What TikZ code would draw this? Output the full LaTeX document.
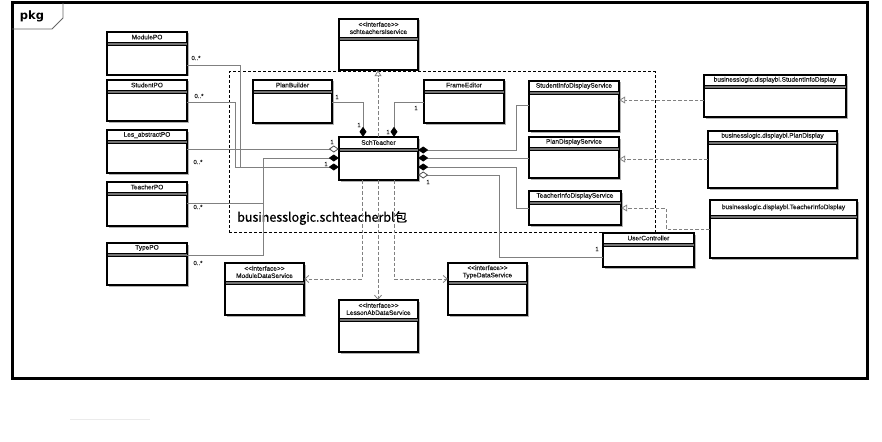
\documentclass[tikz,border=0pt]{standalone}
\usepackage{fontspec}
\setmainfont{Liberation Sans}
\newfontfamily\cjkfont[FakeBold=0.7]{Noto Sans CJK SC}
\newfontfamily\pkgfont{DejaVu Sans}
\newfontfamily\smallfont[FakeBold=0.5]{Liberation Sans}
\usetikzlibrary{arrows.meta,fit}
\tikzset{
  classframe/.style={draw=black,line width=1.1pt,fill=white},
  shadowbox/.style={fill=black!30,draw=none},
  sepband/.style={fill=black!55,draw=black,line width=0.5pt},
  classname/.style={font=\smallfont\fontsize{6.5}{7.3}\selectfont,inner sep=0pt,align=center,text=black!90},
  lbl/.style={font=\smallfont\fontsize{6}{7}\selectfont,inner sep=0pt,text=black!85},
  conn/.style={draw=black!50,line width=0.9pt},
  dep/.style={draw=black!50,line width=0.9pt,dash pattern=on 3.5pt off 2pt},
  fdia/.style={-{Diamond[length=10pt,width=7pt,color=black,fill=black]}},
  hdia/.style={-{Diamond[length=10pt,width=7pt,color=black!70,fill=white,line width=0.8pt]}},
  realz/.style={-{Triangle[length=6pt,width=7pt,fill=white,line width=0.8pt]}},
  depv/.style={-{Straight Barb[length=4pt,width=7pt,line width=0.8pt]}},
  pkgline/.style={draw=black,line width=1pt,dash pattern=on 3pt off 2pt}
}
\newcommand\UMLbox[7]{%
  \fill[shadowbox] (#2+1.5,#3+1.5) rectangle (#4+1.5,#5+1.5);
  \draw[classframe] (#2,#3) rectangle (#4,#5);
  \filldraw[sepband] (#2,#6) rectangle (#4,#6+3);
  \node[classname] at ({(#2+#4)/2},{(#3+#6)/2}) {#7};
  \node[inner sep=0pt,fit={(#2,#3)(#4,#5)}] (#1) {};
}
\begin{document}
\begin{tikzpicture}[x=1pt,y=-1pt]
\useasboundingbox (0,0) rectangle (882,441);
\fill[white] (0,0) rectangle (882,441);
% outer package frame
\draw[line width=3pt] (12,3) rectangle (867,378);
\draw[black!60,line width=0.8pt] (12,29) -- (52,29) -- (63,18) -- (63,3);
\node[font=\pkgfont\bfseries\fontsize{11.5}{13}\selectfont,inner sep=0pt] (pkg) at (32,16) {pkg};
\draw[black!8,line width=1pt] (70,419) -- (150,419);
% inner package
\node[pkgline,inner sep=0pt,fit={(229,72)(655,232)}] (pkgbox) {};
\node[font=\cjkfont\fontsize{12.5}{14}\selectfont,inner sep=0pt,anchor=west] (pkgname) at (237,218) {businesslogic.schteacherbl包};
% classes
\UMLbox{modpo}{107}{32}{187}{75}{42}{ModulePO}
\UMLbox{stupo}{107}{80}{187}{121}{90}{StudentPO}
\UMLbox{lespo}{107}{130}{187}{173}{140}{Les\_abstractPO}
\UMLbox{teapo}{107}{182}{187}{226}{192}{TeacherPO}
\UMLbox{typpo}{107}{243}{187}{285}{253}{TypePO}
\UMLbox{isvc}{339}{19}{418}{70}{37}{{<}{<}interface{>}{>}\\schteachersIservice}
\UMLbox{plan}{253}{80}{332}{123}{90}{PlanBuilder}
\UMLbox{frame}{424}{80}{504}{123}{90}{FrameEditor}
\UMLbox{sch}{339}{137}{418}{180}{148}{SchTeacher}
\UMLbox{sids}{529}{81}{619}{131}{91}{StudentInfoDisplayService}
\UMLbox{pds}{529}{137}{619}{178}{147}{PlanDisplayService}
\UMLbox{tids}{529}{191}{621}{225}{201}{TeacherInfoDisplayService}
\UMLbox{bsid}{704}{75}{846}{117}{85}{businesslogic.displaybl.StudentInfoDisplay}
\UMLbox{bpd}{708}{131}{837}{188}{141}{businesslogic.displaybl.PlanDisplay}
\UMLbox{btid}{710}{200}{857}{258}{215}{businesslogic.displaybl.TeacherInfoDisplay}
\UMLbox{uc}{603}{233}{694}{267}{243}{UserController}
\UMLbox{mds}{225}{263}{304}{315}{281}{{<}{<}interface{>}{>}\\ModuleDataService}
\UMLbox{lads}{339}{300}{418}{352}{318}{{<}{<}interface{>}{>}\\LessonAbDataService}
\UMLbox{tds}{448}{263}{527}{315}{281}{{<}{<}interface{>}{>}\\TypeDataService}
% associations (left)
\draw[conn] (stupo.east |- 0,102) -- (235,102) -- (235,167) -- (240,167);
\draw[conn,fdia] (modpo.east |- 0,65) -- (240,65) -- (240,167) -- (sch.west |- 0,167);
\draw[conn,hdia] (lespo.east |- 0,149) -- (sch.west |- 0,149);
\draw[conn] (typpo.east |- 0,255) -- (263,255) -- (263,203);
\draw[conn,fdia] (teapo.east |- 0,203) -- (263,203) -- (263,158) -- (sch.west |- 0,158);
% top
\draw[conn,fdia] (plan.east |- 0,102) -- (363,102) -- (sch.north -| 363,0);
\draw[conn,fdia] (frame.west |- 0,102) -- (394,102) -- (sch.north -| 394,0);
% right
\draw[conn,fdia] (sids.west |- 0,105) -- (516,105) -- (516,150) -- (sch.east |- 0,150);
\draw[conn,fdia] (pds.west |- 0,158) -- (sch.east |- 0,158);
\draw[conn,fdia] (tids.west |- 0,208) -- (516,208) -- (516,167) -- (sch.east |- 0,167);
\draw[conn,hdia] (uc.west |- 0,257) -- (499,257) -- (499,175) -- (sch.east |- 0,175);
% realizations
\draw[dep,realz] (sch.north -| 378,0) -- (isvc.south -| 378,0);
\draw[dep,realz] (bsid.west |- 0,100) -- (sids.east |- 0,100);
\draw[dep,realz] (bpd.west |- 0,159) -- (pds.east |- 0,159);
\draw[dep,realz] (btid.west |- 0,229) -- (666,229) -- (666,208) -- (tids.east |- 0,208);
% dependencies
\draw[dep,depv] (sch.south -| 362,0) -- (362,279) -- (mds.east |- 0,279);
\draw[dep,depv] (sch.south -| 378,0) -- (lads.north -| 378,0);
\draw[dep,depv] (sch.south -| 394,0) -- (394,279) -- (tds.west |- 0,279);
% multiplicities
\node[lbl] (m1) at (196,58) {0..*};
\node[lbl] (m2) at (199,96) {0..*};
\node[lbl] (m3) at (198,162) {0..*};
\node[lbl] (m4) at (198,207) {0..*};
\node[lbl] (m5) at (198,263) {0..*};
\node[lbl] (o1) at (332,142) {1};
\node[lbl] (o2) at (326,164) {1};
\node[lbl] (o3) at (337,97) {1};
\node[lbl] (o4) at (359,125) {1};
\node[lbl] (o5) at (416,108) {1};
\node[lbl] (o6) at (388,132) {1};
\node[lbl] (o7) at (428,182) {1};
\node[lbl] (o8) at (597,249) {1};
\end{tikzpicture}
\end{document}
